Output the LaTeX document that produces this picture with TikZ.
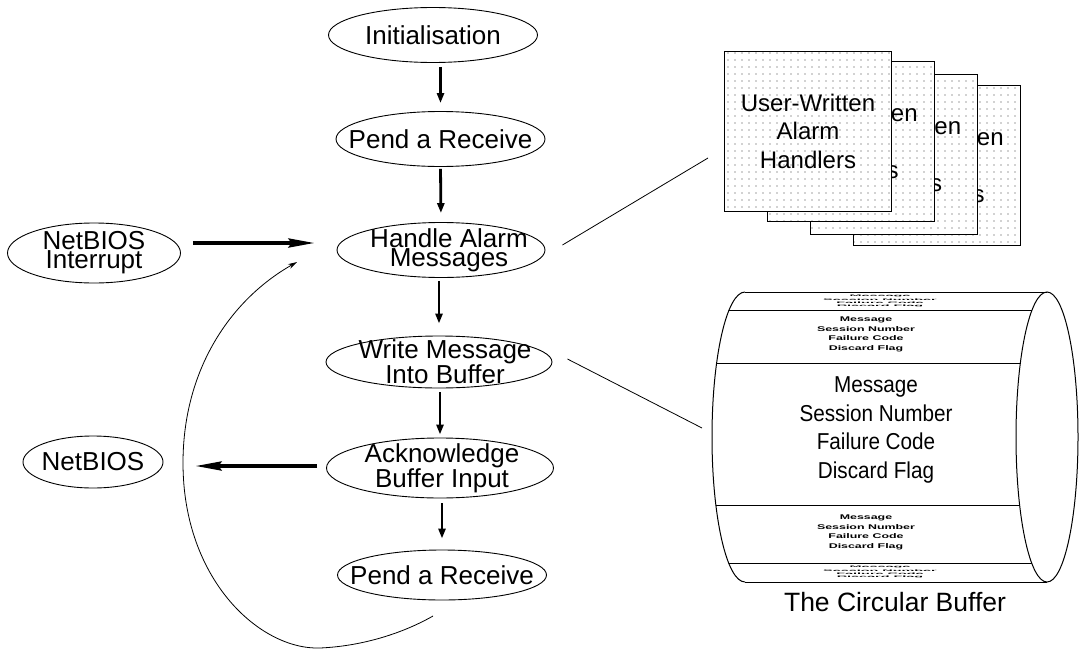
\documentclass[tikz,border=0pt]{standalone}
\usepackage{fontspec}
\usepackage{graphicx}
\setmainfont{Liberation Sans}
\usetikzlibrary{shapes.geometric,arrows.meta,patterns.meta,calc}

% the four fields stored in each slot of the buffer
\newcommand{\slotfields}{\begin{tabular}{@{}c@{}}Message\\Session Number\\Failure Code\\Discard Flag\end{tabular}}

\begin{document}
\begin{tikzpicture}[x=1pt,y=1pt,
  proc/.style={ellipse, draw, line width=0.9pt, inner sep=0pt},
  ptext/.style={font=\fontsize{26}{19}\selectfont, align=center, inner sep=0pt},
  flow/.style={line width=2.8pt, -{Triangle[length=10pt,width=7pt]}},
  bigflow/.style={line width=3.6pt, -{Stealth[length=26pt,width=9pt,inset=3pt]}},
  thinline/.style={line width=0.8pt},
  card/.style={draw, line width=1pt, minimum width=167pt, minimum height=160pt,
    inner sep=0pt, preaction={fill=white},
    pattern={Dots[distance=7pt,radius=0.6pt]}, pattern color=black!75,
    font=\fontsize{24}{28.5}\selectfont, align=center},
  buftext/.style={inner sep=0pt},
]
\useasboundingbox (0,0) rectangle (1079,-648);

% ---- main flow of the alarm handler ----
\node[proc, minimum width=209pt, minimum height=55pt,
      label={[ptext]center:Initialisation}] (init) at (433,-35) {};
\node[proc, minimum width=209pt, minimum height=55pt,
      label={[ptext]center:Pend a Receive}] (pend1) at (440.5,-139) {};
\node[proc, minimum width=208pt, minimum height=55pt,
      label={[ptext,xshift=8pt]center:Handle Alarm\\Messages}] (handle) at (441,-250) {};
\node[proc, minimum width=226pt, minimum height=52pt,
      label={[ptext,xshift=6pt]center:Write Message\\Into Buffer}] (write) at (439,-362) {};
\node[proc, minimum width=227pt, minimum height=60pt,
      label={[ptext,xshift=2pt]center:Acknowledge\\Buffer Input}] (ack) at (440,-468) {};
\node[proc, minimum width=209pt, minimum height=50pt,
      label={[ptext]center:Pend a Receive}] (pend2) at (442,-575) {};

% ---- NetBIOS side ----
\node[proc, minimum width=173pt, minimum height=60pt,
      label={[ptext]center:NetBIOS\\Interrupt}] (netint) at (94,-253) {};
\node[proc, minimum width=140pt, minimum height=52pt,
      label={[ptext]center:NetBIOS}] (netbios) at (93,-462) {};

% vertical flow arrows
\draw[flow, shorten <=4pt, shorten >=8pt] (init.south -| pend1.north) -- (pend1.north);
\draw[flow, shorten <=2pt, shorten >=9pt] (pend1.south) -- (handle.north);
\draw[flow, shorten <=3pt, shorten >=12pt] (handle.south -| write.north) -- (write.north);
\draw[flow, shorten <=4pt, shorten >=3pt] (write.south -| ack.north) -- (ack.north);
\draw[flow, shorten <=5pt, shorten >=11pt] (ack.south -| pend2.north) -- (pend2.north);

% interrupt in, acknowledgement out
\draw[bigflow, shorten <=12pt, shorten >=22pt]
  ([yshift=10pt]netint.east) -- ([yshift=10pt]netint.east -| handle.west);
\draw[bigflow, shorten <=9pt, shorten >=32pt]
  ([yshift=2pt]ack.west) -- ([yshift=2pt]ack.west -| netbios.east);

% loop back to the message handler
\coordinate (loopS) at (433,-616);
\coordinate (loopE) at (297,-262);
\draw[thinline, -{Stealth[length=9pt,width=5pt]}] (loopS)
  .. controls (405,-632) and (365,-646) .. (320,-648)
  .. controls (260,-650) and (183,-580) .. (183,-463)
  .. controls (183,-370) and (230,-300) .. (loopE);

% ---- stack of user-written handlers ----
\node[card] (card4) at (936.5,-165.5) {User-Written\\Alarm\\Handlers};
\node[card] (card3) at (894,-154) {User-Written\\Alarm\\Handlers};
\node[card] (card2) at (850.5,-141) {User-Written\\Alarm\\Handlers};
\node[card] (card1) at (808,-131) {User-Written\\Alarm\\Handlers};

\draw[thinline] ([shift={(17,5)}]handle.east) -- ([shift={(-16,-27)}]card1.west);

% ---- the circular buffer drawn as a drum ----
\begin{scope}
  \clip (745,-292) arc[start angle=90, end angle=270, x radius=33, y radius=145]
        -- (1047,-582) arc[start angle=270, end angle=90, x radius=31, y radius=145]
        -- cycle;
  \foreach \yy in {310,363,505,563}
    \draw[line width=0.9pt] (700,-\yy) -- (1060,-\yy);
\end{scope}
\draw[line width=1pt] (745,-292) arc[start angle=90, end angle=270, x radius=33, y radius=145];
\draw[line width=1pt] (745,-292) -- (1047,-292);
\draw[line width=1pt] (745,-582) -- (1047,-582);
\draw[line width=1pt] (1047,-437) ellipse[x radius=31, y radius=145];
\coordinate (buf) at (712,-437);

\draw[thinline] ([shift={(15,3)}]write.east) -- ([shift={(-10,9)}]buf);

% slot contents, foreshortened towards the top and bottom of the drum
\node[buftext, font=\bfseries\fontsize{12}{18}\selectfont] (slotA) at (880,-301)
  {\scalebox{1.2}[0.18]{\slotfields}};
\node[buftext, font=\bfseries\fontsize{12.4}{18}\selectfont] (slotB) at (866,-334)
  {\scalebox{1}[0.55]{\slotfields}};
\node[buftext, font=\fontsize{23}{28.5}\selectfont] (slotC) at (876,-430)
  {\scalebox{0.9}[1]{\slotfields}};
\node[buftext, font=\bfseries\fontsize{12.4}{18}\selectfont] (slotD) at (866,-532)
  {\scalebox{1}[0.55]{\slotfields}};
\node[buftext, font=\bfseries\fontsize{12}{18}\selectfont] (slotE) at (880,-572)
  {\scalebox{1.2}[0.18]{\slotfields}};

\node[font=\fontsize{26.5}{30}\selectfont, inner sep=0pt] (cap) at (895,-602) {The Circular Buffer};
\end{tikzpicture}
\end{document}
